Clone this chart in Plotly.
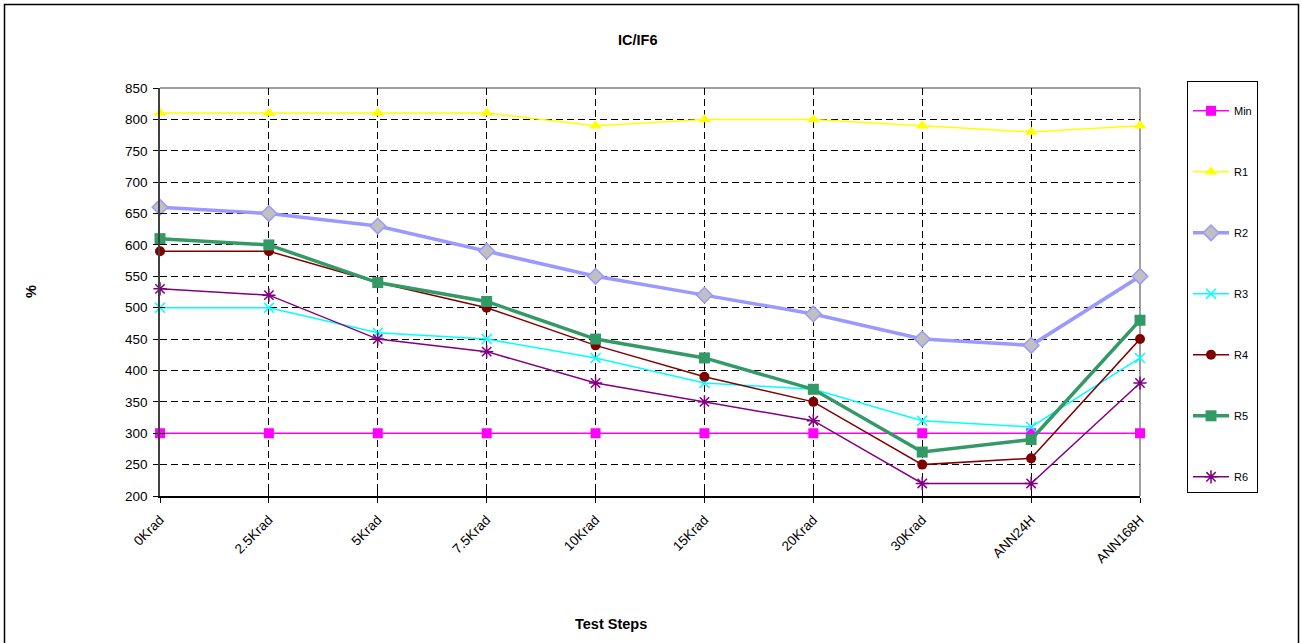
import plotly.graph_objects as go

# Test steps along the x axis
steps = ["0Krad", "2.5Krad", "5Krad", "7.5Krad", "10Krad", "15Krad",
         "20Krad", "30Krad", "ANN24H", "ANN168H"]

# IC/IF6 readings per sample (%)
min_limit = [300, 300, 300, 300, 300, 300, 300, 300, 300, 300]
r1 = [810, 810, 810, 810, 790, 800, 800, 790, 780, 790]
r2 = [660, 650, 630, 590, 550, 520, 490, 450, 440, 550]
r3 = [500, 500, 460, 450, 420, 380, 370, 320, 310, 420]
r4 = [590, 590, 540, 500, 440, 390, 350, 250, 260, 450]
r5 = [610, 600, 540, 510, 450, 420, 370, 270, 290, 480]
r6 = [530, 520, 450, 430, 380, 350, 320, 220, 220, 380]

y_ticks = list(range(200, 851, 50))

W, H = 1302, 643
L, R, T, B = 160, 1140, 88, 496  # plot area in pixels


def px(x):
    return (x - L) / (R - L)


def py(y):
    return (B - y) / (B - T)


FONT = "Liberation Sans, Arial, sans-serif"
xs = list(range(len(steps)))

series = [
    dict(name="Min", y=min_limit, color="#FF00FF", width=1.5,
         marker=dict(symbol="square", size=10, color="#FF00FF")),
    dict(name="R1", y=r1, color="#FFFF00", width=1.5,
         marker=dict(symbol="triangle-up", size=11, color="#FFFF00")),
    dict(name="R2", y=r2, color="#9999FF", width=3.5,
         marker=dict(symbol="diamond", size=12, color="#C0C0C0",
                     line=dict(color="#9999FF", width=1.5))),
    dict(name="R3", y=r3, color="#00FFFF", width=1.5,
         marker=dict(symbol="x-thin-open", size=10,
                     line=dict(color="#00FFFF", width=1.5))),
    dict(name="R4", y=r4, color="#800000", width=1.5,
         marker=dict(symbol="circle", size=10, color="#800000")),
    dict(name="R5", y=r5, color="#339966", width=3.5,
         marker=dict(symbol="square", size=11, color="#339966")),
    dict(name="R6", y=r6, color="#800080", width=1.5,
         marker=dict(symbol="asterisk-open", size=11,
                     line=dict(color="#800080", width=1.5))),
]

fig = go.Figure()
for i, s in enumerate(series):
    fig.add_trace(go.Scatter(
        x=xs, y=s["y"], name=s["name"], mode="lines+markers",
        line=dict(color=s["color"], width=s["width"]),
        marker=s["marker"], cliponaxis=False,
        legendgroup=f"g{i}",
    ))

# inside-facing tick marks on overlaid axes, so ticks cross the axis lines
fig.add_trace(go.Scatter(x=[0], y=[200], xaxis="x2", yaxis="y2",
                         mode="markers", marker=dict(opacity=0),
                         showlegend=False, hoverinfo="skip"))

fig.update_layout(
    width=W, height=H,
    margin=dict(l=L, r=W - R, t=T, b=H - B, pad=0),
    paper_bgcolor="white", plot_bgcolor="white",
    font=dict(family=FONT, color="black", size=13.5),
    showlegend=True,
    legend=dict(
        x=px(1187), y=py(81), xanchor="left", yanchor="top",
        bordercolor="black", borderwidth=1, bgcolor="white",
        font=dict(size=11, family=FONT),
        tracegroupgap=42, traceorder="grouped",
        itemwidth=36, maxheight=460,
        title=dict(text=" ", font=dict(size=11)),
    ),
    xaxis=dict(
        range=[0, 9], tickmode="array", tickvals=xs, ticktext=steps,
        tickangle=-45, ticks="outside", ticklen=5, tickcolor="black",
        ticklabelstandoff=4,
        showline=True, linecolor="black", linewidth=1.5,
        showgrid=True, gridcolor="black", gridwidth=1, griddash="7px,4px",
        zeroline=False, tickfont=dict(size=13.5),
    ),
    yaxis=dict(
        range=[200, 850], tickmode="array", tickvals=y_ticks,
        ticks="outside", ticklen=5, tickcolor="black",
        ticklabelstandoff=3,
        showline=True, linecolor="#404040", linewidth=1.5,
        showgrid=True, gridcolor="black", gridwidth=1, griddash="7px,4px",
        zeroline=False, tickfont=dict(size=13.5),
    ),
    xaxis2=dict(
        range=[0, 9], overlaying="x", tickmode="array", tickvals=xs,
        ticks="inside", ticklen=5, tickcolor="black", showticklabels=False,
        showgrid=False, zeroline=False, showline=False,
    ),
    yaxis2=dict(
        range=[200, 850], overlaying="y", tickmode="array", tickvals=y_ticks,
        ticks="inside", ticklen=5, tickcolor="black", showticklabels=False,
        showgrid=False, zeroline=False, showline=False,
    ),
    annotations=[
        dict(text="<b>IC/IF6</b>", x=px(637), y=py(40), xref="paper", yref="paper",
             xanchor="center", yanchor="middle",
             showarrow=False, font=dict(size=14.5, family=FONT)),
        dict(text="<b>Test Steps</b>", x=px(611), y=py(624), xref="paper", yref="paper",
             xanchor="center", yanchor="middle",
             showarrow=False, font=dict(size=14.5, family=FONT)),
        dict(text="<b>%</b>", x=px(31), y=py(292), xref="paper", yref="paper",
             xanchor="center", yanchor="middle",
             showarrow=False, textangle=-90, font=dict(size=14.5, family=FONT)),
    ],
    shapes=[
        # outer chart frame
        dict(type="rect", xref="paper", yref="paper",
             x0=px(4.5), x1=px(1298.5), y0=py(648), y1=py(4.5),
             line=dict(color="black", width=1.5), layer="below"),
        # grey top and right edges of the plot area
        dict(type="line", xref="paper", yref="paper", x0=0, x1=1, y0=1, y1=1,
             line=dict(color="#808080", width=1.5), layer="below"),
        dict(type="line", xref="paper", yref="paper", x0=1, x1=1, y0=0, y1=1,
             line=dict(color="#808080", width=1.5), layer="below"),
    ],
)

fig.write_html("out.html")
